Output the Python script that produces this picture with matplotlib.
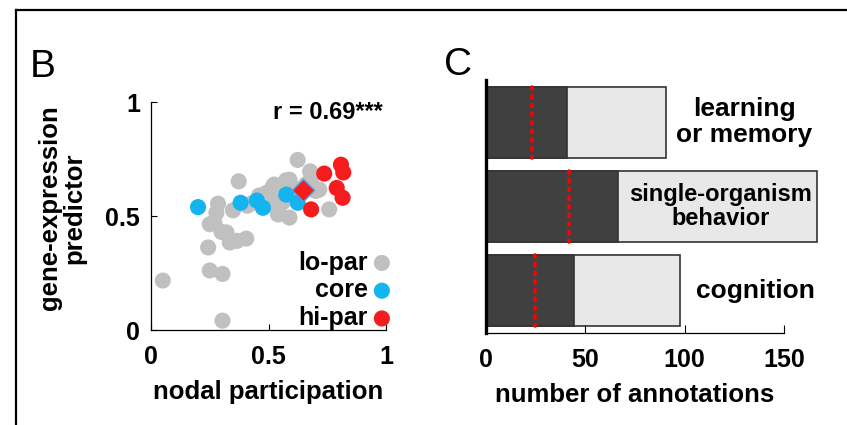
import numpy as np
import matplotlib
matplotlib.use("Agg")
import matplotlib.pyplot as plt
from matplotlib.lines import Line2D

plt.rcParams['font.family'] = ['Liberation Sans', 'DejaVu Sans']

# panel B: nodal participation vs gene-expression predictor
lo_x = [0.05, 0.304, 0.25, 0.304, 0.243, 0.321, 0.335, 0.366, 0.405, 0.25,
        0.278, 0.285, 0.349, 0.373, 0.518, 0.54, 0.589, 0.547, 0.525, 0.589,
        0.49, 0.624, 0.677, 0.716, 0.758, 0.427, 0.52, 0.60, 0.575, 0.70,
        0.46, 0.56, 0.62, 0.66, 0.68, 0.50, 0.41, 0.30, 0.27, 0.64]
lo_y = [0.217, 0.041, 0.261, 0.246, 0.362, 0.428, 0.384, 0.391, 0.401, 0.464,
        0.514, 0.554, 0.525, 0.652, 0.630, 0.507, 0.493, 0.509, 0.638, 0.659,
        0.601, 0.746, 0.696, 0.616, 0.529, 0.555, 0.57, 0.628, 0.657, 0.61,
        0.59, 0.56, 0.58, 0.64, 0.66, 0.55, 0.545, 0.43, 0.47, 0.60]
core_x = [0.20, 0.381, 0.45, 0.476, 0.575, 0.624]
core_y = [0.539, 0.558, 0.568, 0.536, 0.594, 0.558]
hi_x = [0.681, 0.737, 0.808, 0.818, 0.79, 0.815]
hi_y = [0.529, 0.686, 0.725, 0.691, 0.623, 0.580]
mean_x = [0.645]
mean_y = [0.613]

# panel C: annotation counts
terms = ['learning\nor memory', 'single-organism\nbehavior', 'cognition']
total = [90.5, 166.5, 97.5]
hits = [41, 66.5, 44.5]
expected = [23, 42, 24.5]
label_x = [130, 118, 135.5]
label_size = [19, 17, 19]

gray = '#c0c0c0'
blue = '#14b4f0'
red = '#f41c1c'

fig = plt.figure(figsize=(8.47, 4.25), dpi=100)

ax1 = fig.add_axes([0.1783, 0.2235, 0.2775, 0.5365])
ax1.scatter(lo_x, lo_y, s=135, color=gray, edgecolors='none', label='lo-par')
ax1.scatter(core_x, core_y, s=135, color=blue, edgecolors='none', label='core')
ax1.scatter(hi_x, hi_y, s=135, color=red, edgecolors='none', label='hi-par')
ax1.scatter(mean_x, mean_y, s=130, marker='D', color=red, edgecolors='#5aa0e0',
            linewidths=1.0, zorder=5)
ax1.set_xlim(0, 1)
ax1.set_ylim(0, 1)
ax1.set_xticks([0, 0.5, 1])
ax1.set_xticklabels(['0', '0.5', '1'])
ax1.set_yticks([0, 0.5, 1])
ax1.set_yticklabels(['0', '0.5', '1'])
for s in ['top', 'right']:
    ax1.spines[s].set_visible(False)
for s in ['left', 'bottom']:
    ax1.spines[s].set_linewidth(0.9)
ax1.tick_params(axis='x', direction='in', length=4, pad=11, labelsize=18)
ax1.tick_params(axis='y', direction='in', length=4, pad=8, labelsize=18)
for t in ax1.get_xticklabels() + ax1.get_yticklabels():
    t.set_fontweight('bold')
ax1.set_xlabel('nodal participation', fontsize=18.5, fontweight='bold', labelpad=8)
ax1.text(0.985, 0.955, 'r = 0.69***', transform=ax1.transAxes, ha='right',
         va='center', fontsize=17, fontweight='bold')
ax1.legend(loc='lower right', bbox_to_anchor=(1.03, 0.0), markerfirst=False,
           frameon=False, scatterpoints=1, handletextpad=0.1, labelspacing=0.15,
           borderpad=0, borderaxespad=0, handlelength=0.9,
           prop={'size': 18, 'weight': 'bold'})
fig.text(62 / 847, 1 - 208 / 425, 'gene-expression\npredictor', rotation=90,
         ha='center', va='center', multialignment='center', fontsize=18.5,
         fontweight='bold', linespacing=1.05)

ax2 = fig.add_axes([0.5738, 0.2165, 0.3518, 0.5953])
ypos = np.arange(1, len(terms) + 1)
ax2.barh(ypos, total, height=0.84, color='#e8e8e8', edgecolor='#333333',
         linewidth=1.2, clip_on=False)
ax2.barh(ypos, hits, height=0.84, color='#404040', edgecolor='#333333',
         linewidth=1.2, clip_on=False)
ax2.vlines(expected, ypos - 0.42, ypos + 0.42, colors='red', linewidth=2.6,
           linestyles=(0, (0.6, 1.8)), capstyle='round', zorder=4)
for x, y, t, fs in zip(label_x, ypos, terms, label_size):
    ax2.text(x, y, t, ha='center', va='center', fontsize=fs, fontweight='bold',
             linespacing=1.1, zorder=6)
ax2.set_xlim(0, 150)
ax2.set_ylim(3.5, 0.5)
ax2.set_xticks([0, 50, 100, 150])
ax2.set_yticks([])
for s in ['top', 'right']:
    ax2.spines[s].set_visible(False)
ax2.spines['left'].set_linewidth(2.4)
ax2.spines['bottom'].set_linewidth(0.9)
ax2.tick_params(axis='x', direction='in', length=6, pad=11, labelsize=18)
for t in ax2.get_xticklabels():
    t.set_fontweight('bold')
ax2.set_xlabel('number of annotations', fontsize=18.5, fontweight='bold', labelpad=8)

fig.text(30 / 847, 1 - 77 / 425, 'B', fontsize=28, va='baseline', ha='left')
fig.text(444 / 847, 1 - 75 / 425, 'C', fontsize=28, va='baseline', ha='left')

# border around the figure (top and left visible)
fig.add_artist(Line2D([16 / 847, 1.0], [1 - 10 / 425, 1 - 10 / 425], color='black',
                      linewidth=1.6, transform=fig.transFigure))
fig.add_artist(Line2D([16 / 847, 16 / 847], [0, 1 - 10 / 425], color='black',
                      linewidth=1.6, transform=fig.transFigure))

fig.savefig('out.png', dpi=100)
